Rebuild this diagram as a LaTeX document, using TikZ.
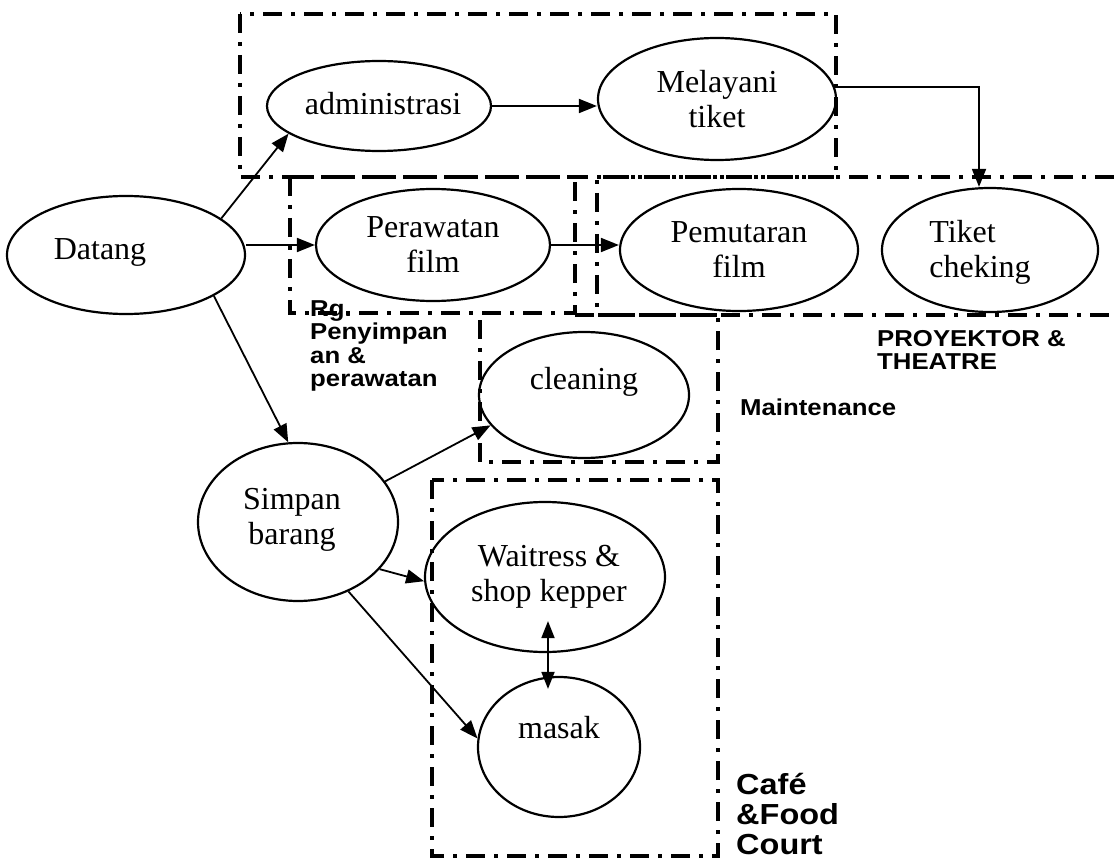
\documentclass[tikz,border=0pt]{standalone}
\usepackage{fontspec}
\setmainfont{Liberation Serif}
\newfontfamily\zonefont[FakeStretch=1.12]{Liberation Sans}
\usetikzlibrary{arrows.meta,shapes.geometric}

\begin{document}
\begin{tikzpicture}[x=1pt,y=-1pt,
  proc/.style={draw, ellipse, line width=2.2pt, inner sep=0pt},
  words/.style={inner sep=0pt, align=center, font=\fontsize{32}{35}\selectfont},
  zone/.style={line width=4.2pt, dash pattern=on 19pt off 9pt on 4pt off 9pt},
  flow/.style={line width=1.8pt, -{Triangle[length=18pt,width=14pt]}},
  bothflow/.style={line width=1.8pt,
    {Triangle[length=17pt,width=13pt]}-{Triangle[length=17pt,width=13pt]}},
  tag/.style={font=\zonefont\bfseries\fontsize{23}{23.5}\selectfont, align=left,
    anchor=north west, inner sep=0pt},
  bigtag/.style={font=\zonefont\bfseries\fontsize{29}{30}\selectfont, align=left,
    anchor=north west, inner sep=0pt}
]
\useasboundingbox (0,0) rectangle (1114,861);

% zone outlines
\draw[zone] (240,14) rectangle (836,177);
\draw[zone] (290,177) rectangle (575,313);
\draw[zone] (1114,177) -- (597,177) -- (597,315) -- (1114,315);
\draw[zone] (575,315) -- (718,315);
\draw[zone] (480,320) -- (480,462) -- (718,462) -- (718,318);
\draw[zone] (432,480) rectangle (718,856);

% activities
\node[proc, minimum width=238pt, minimum height=118pt] (datang) at (126,255) {};
\node[words] at ([shift={(-26,-3)}]datang.center) {Datang};
\node[proc, minimum width=224pt, minimum height=90pt] (admin) at (379,106) {};
\node[words] at ([shift={(4,-2)}]admin.center) {administrasi};
\node[proc, minimum width=238pt, minimum height=122pt] (melayani) at (717,99) {};
\node[words] at (melayani.center) {Melayani\\tiket};
\node[proc, minimum width=234pt, minimum height=112pt] (perawatan) at (433,245) {};
\node[words] at (perawatan.center) {Perawatan\\film};
\node[proc, minimum width=238pt, minimum height=122pt] (pemutaran) at (739,250) {};
\node[words] at (pemutaran.center) {Pemutaran\\film};
\node[proc, minimum width=216pt, minimum height=124pt] (tiket) at (990,250) {};
\node[words, align=left] at ([shift={(-10,2)}]tiket.center) {Tiket\\cheking};
\node[proc, minimum width=210pt, minimum height=126pt] (cleaning) at (584,395) {};
\node[words] at ([yshift=13pt]cleaning.center) {cleaning};
\node[proc, minimum width=200pt, minimum height=158pt] (simpan) at (298,522) {};
\node[words] at ([shift={(-6,-2)}]simpan.center) {Simpan\\barang};
\node[proc, minimum width=240pt, minimum height=150pt] (waitress) at (545,577) {};
\node[words] at ([shift={(4,0)}]waitress.center) {Waitress \&\\shop kepper};
\node[proc, minimum width=162pt, minimum height=140pt] (masak) at (559,747) {};
\node[words] at ([yshift=19pt]masak.center) {masak};

% zone names
\node[tag] (rg) at (310,300) {Rg.\\Penyimpan\\an \&\\perawatan};
\node[tag] (proy) at (877,330) {PROYEKTOR \&\\THEATRE};
\node[tag] (maint) at (740,399) {Maintenance};
\node[bigtag] (cafe) at (736,773) {Café\\\&Food\\Court};

% flows
\draw[flow] (datang.21) -- (admin.197);
\draw[flow] (perawatan.west -| datang.east) -- (perawatan.west);
\draw[flow] (datang.-25) -- (simpan.97);
\draw[flow] (admin.east) -- (admin.east -| melayani.west);
\draw[flow] (perawatan.east) -- (perawatan.east -| pemutaran.west);
\draw[flow] (melayani.6) -| ([xshift=-11pt]tiket.north);
\draw[flow] (simpan.25) -- (cleaning.198);
\draw[flow] (simpan.-30) -- (waitress.182);
\draw[flow] (simpan.-54) -- (masak.174);
\draw[bothflow] ([shift={(3,-32)}]waitress.south) -- ([shift={(-11,13)}]masak.north);
\end{tikzpicture}
\end{document}
